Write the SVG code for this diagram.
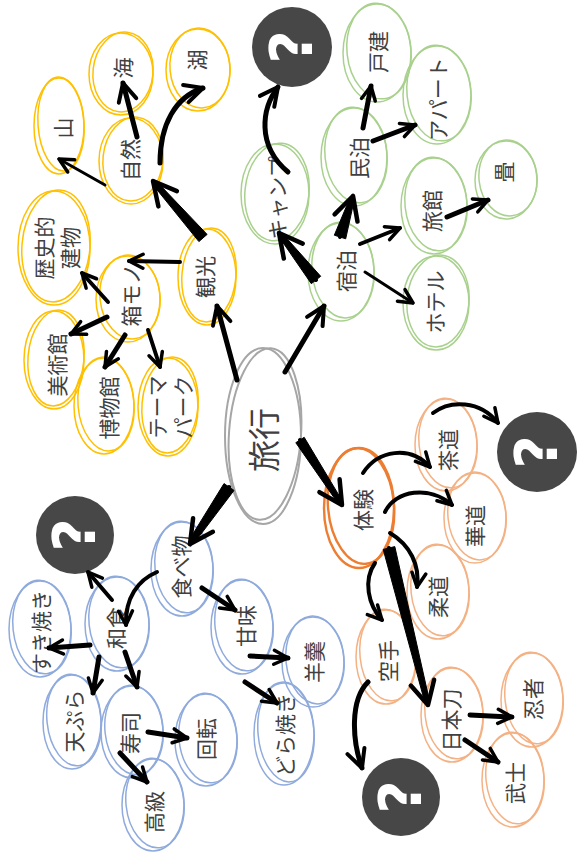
<svg xmlns="http://www.w3.org/2000/svg" width="586" height="859" viewBox="0 0 586 859">
<style>
  ellipse { fill: none; stroke-width: 1.5; }
  .y { stroke: #FFC000; }
  .g { stroke: #A9D18E; }
  .b { stroke: #8FAADC; }
  .p { stroke: #F4B183; }
  .o { stroke: #ED7D31; stroke-width: 2.4; }
  .gr { stroke: #A6A6A6; stroke-width: 2; }
  .t { font-family: "Noto Sans CJK JP", "Noto Sans", sans-serif; font-size: 21px; fill: #404040; text-anchor: middle; dominant-baseline: central; }
  .big { font-size: 32px; }
  .q circle { fill: #474747; }
  .q text { font-family: "DejaVu Sans", "Liberation Sans", sans-serif; font-weight: bold; font-size: 58px; fill: #fff; text-anchor: middle; dominant-baseline: central; }
  .c { fill: none; stroke: #000; stroke-linecap: round; stroke-linejoin: round; }
  .w3 { stroke-width: 3; }
  .w4 { stroke-width: 4; }
  .w5 { stroke-width: 5; }
  .wedge { fill: #000; stroke: #000; stroke-width: 1; stroke-linejoin: round; }
</style>
<defs>
  <marker id="ahl" viewBox="0 0 30 30" refX="27" refY="15" markerWidth="30" markerHeight="30" markerUnits="userSpaceOnUse" orient="auto">
    <path d="M4,3 L27,15 L4,27" fill="none" stroke="#000" stroke-width="4.5" stroke-linecap="round" stroke-linejoin="round"/>
  </marker>
  <marker id="ah" viewBox="0 0 24 24" refX="21" refY="12" markerWidth="24" markerHeight="24" markerUnits="userSpaceOnUse" orient="auto">
    <path d="M3,3 L21,12 L3,21" fill="none" stroke="#000" stroke-width="4" stroke-linecap="round" stroke-linejoin="round"/>
  </marker>
  <marker id="ahs" viewBox="0 0 20 20" refX="17" refY="10" markerWidth="20" markerHeight="20" markerUnits="userSpaceOnUse" orient="auto">
    <path d="M3,3 L17,10 L3,17" fill="none" stroke="#000" stroke-width="3.5" stroke-linecap="round" stroke-linejoin="round"/>
  </marker>
</defs>

<g id="nodes">
  <!-- centre -->
  <g id="n-ryoko">
    <ellipse class="gr" cx="263" cy="436" rx="38" ry="88"/>
    <ellipse class="gr" cx="265" cy="434" rx="36" ry="86" transform="rotate(4 265 434)"/>
    <text class="t big" x="262" y="440" transform="rotate(-90 262 440)">旅行</text>
  </g>

  <!-- sightseeing branch -->
  <g id="n-kanko">
    <ellipse class="y" cx="207" cy="277" rx="29" ry="48"/>
    <ellipse class="y" cx="209" cy="275" rx="27" ry="47" transform="rotate(5 209 275)"/>
    <text class="t" x="204" y="277" transform="rotate(-90 204 277)">観光</text>
  </g>
  <g id="n-shizen">
    <ellipse class="y" cx="131" cy="161" rx="32" ry="43"/>
    <ellipse class="y" cx="133" cy="159" rx="30" ry="42" transform="rotate(6 133 159)"/>
    <text class="t" x="129" y="160" transform="rotate(-90 129 160)">自然</text>
  </g>
  <g id="n-umi">
    <ellipse class="y" cx="121" cy="74" rx="32" ry="41"/>
    <ellipse class="y" cx="123" cy="72" rx="30" ry="40" transform="rotate(6 123 72)"/>
    <text class="t" x="122" y="68" transform="rotate(-90 122 68)">海</text>
  </g>
  <g id="n-mizuumi">
    <ellipse class="y" cx="198" cy="70" rx="32" ry="41"/>
    <ellipse class="y" cx="200" cy="68" rx="30" ry="40" transform="rotate(-5 200 68)"/>
    <text class="t" x="196" y="60" transform="rotate(-90 196 60)">湖</text>
  </g>
  <g id="n-yama">
    <ellipse class="y" cx="59" cy="126" rx="25" ry="48"/>
    <ellipse class="y" cx="61" cy="124" rx="23" ry="47" transform="rotate(-4 61 124)"/>
    <text class="t" x="62" y="128" transform="rotate(-90 62 128)">山</text>
  </g>
  <g id="n-rekishi">
    <ellipse class="y" cx="54" cy="248" rx="36" ry="57"/>
    <ellipse class="y" cx="56" cy="246" rx="34" ry="56" transform="rotate(5 56 246)"/>
    <text class="t" x="56" y="248" transform="rotate(-90 56 248)"><tspan x="56" dy="-0.62em">歴史的</tspan><tspan x="56" dy="1.24em">建物</tspan></text>
  </g>
  <g id="n-hakomono">
    <ellipse class="y" cx="128" cy="299" rx="32" ry="43"/>
    <ellipse class="y" cx="130" cy="297" rx="30" ry="42" transform="rotate(-6 130 297)"/>
    <text class="t" x="130" y="295" transform="rotate(-90 130 295)">箱モノ</text>
  </g>
  <g id="n-bijutsukan">
    <ellipse class="y" cx="54" cy="360" rx="30" ry="49"/>
    <ellipse class="y" cx="56" cy="358" rx="28" ry="48" transform="rotate(5 56 358)"/>
    <text class="t" x="56" y="365" transform="rotate(-90 56 365)">美術館</text>
  </g>
  <g id="n-hakubutsukan">
    <ellipse class="y" cx="104" cy="406" rx="30" ry="48"/>
    <ellipse class="y" cx="106" cy="404" rx="28" ry="47" transform="rotate(-5 106 404)"/>
    <text class="t" x="108" y="408" transform="rotate(-90 108 408)">博物館</text>
  </g>
  <g id="n-themepark">
    <ellipse class="y" cx="168" cy="407" rx="30" ry="49"/>
    <ellipse class="y" cx="170" cy="405" rx="28" ry="48" transform="rotate(5 170 405)"/>
    <text class="t" x="169" y="407" transform="rotate(-90 169 407)"><tspan x="169" dy="-0.62em">テーマ</tspan><tspan x="169" dy="1.24em">パーク</tspan></text>
  </g>

  <!-- lodging branch -->
  <g id="n-camp">
    <ellipse class="g" cx="275" cy="194" rx="34" ry="50"/>
    <ellipse class="g" cx="277" cy="192" rx="32" ry="49" transform="rotate(6 277 192)"/>
    <text class="t" x="276" y="198" transform="rotate(-90 276 198)">キャンプ</text>
  </g>
  <g id="n-shukuhaku">
    <ellipse class="g" cx="341" cy="272" rx="33" ry="49"/>
    <ellipse class="g" cx="343" cy="270" rx="31" ry="48" transform="rotate(-5 343 270)"/>
    <text class="t" x="345" y="271" transform="rotate(-90 345 271)">宿泊</text>
  </g>
  <g id="n-minpaku">
    <ellipse class="g" cx="354" cy="157" rx="33" ry="49"/>
    <ellipse class="g" cx="356" cy="155" rx="31" ry="48" transform="rotate(-6 356 155)"/>
    <text class="t" x="358" y="158" transform="rotate(-90 358 158)">民泊</text>
  </g>
  <g id="n-kodate">
    <ellipse class="g" cx="377" cy="53" rx="34" ry="49"/>
    <ellipse class="g" cx="379" cy="51" rx="32" ry="48" transform="rotate(-6 379 51)"/>
    <text class="t" x="377" y="52" transform="rotate(-90 377 52)">戸建</text>
  </g>
  <g id="n-apart">
    <ellipse class="g" cx="437" cy="95" rx="34" ry="49"/>
    <ellipse class="g" cx="439" cy="93" rx="32" ry="48" transform="rotate(-6 439 93)"/>
    <text class="t" x="437" y="99" transform="rotate(-90 437 99)">アパート</text>
  </g>
  <g id="n-ryokan">
    <ellipse class="g" cx="434" cy="206" rx="33" ry="48"/>
    <ellipse class="g" cx="436" cy="204" rx="31" ry="47" transform="rotate(-6 436 204)"/>
    <text class="t" x="431" y="211" transform="rotate(-90 431 211)">旅館</text>
  </g>
  <g id="n-tatami">
    <ellipse class="g" cx="506" cy="180" rx="31" ry="39"/>
    <ellipse class="g" cx="508" cy="178" rx="29" ry="38" transform="rotate(-6 508 178)"/>
    <text class="t" x="503" y="172" transform="rotate(-90 503 172)">畳</text>
  </g>
  <g id="n-hotel">
    <ellipse class="g" cx="436" cy="303" rx="33" ry="47"/>
    <ellipse class="g" cx="438" cy="301" rx="31" ry="46" transform="rotate(5 438 301)"/>
    <text class="t" x="434" y="302" transform="rotate(-90 434 302)">ホテル</text>
  </g>

  <!-- experience branch -->
  <g id="n-taiken">
    <ellipse class="o" cx="359" cy="508" rx="35" ry="60"/>
    <ellipse class="o" cx="361" cy="506" rx="33" ry="58" transform="rotate(-5 361 506)"/>
    <text class="t" x="362" y="510" transform="rotate(-90 362 510)">体験</text>
  </g>
  <g id="n-sado">
    <ellipse class="p" cx="446" cy="445" rx="31" ry="46"/>
    <ellipse class="p" cx="448" cy="443" rx="29" ry="45" transform="rotate(-6 448 443)"/>
    <text class="t" x="447" y="450" transform="rotate(-90 447 450)">茶道</text>
  </g>
  <g id="n-kado">
    <ellipse class="p" cx="475" cy="518" rx="31" ry="45"/>
    <ellipse class="p" cx="477" cy="516" rx="29" ry="44" transform="rotate(-6 477 516)"/>
    <text class="t" x="474" y="526" transform="rotate(-90 474 526)">華道</text>
  </g>
  <g id="n-judo">
    <ellipse class="p" cx="438" cy="592" rx="31" ry="47"/>
    <ellipse class="p" cx="440" cy="590" rx="29" ry="46" transform="rotate(-6 440 590)"/>
    <text class="t" x="437" y="597" transform="rotate(-90 437 597)">柔道</text>
  </g>
  <g id="n-karate">
    <ellipse class="p" cx="386" cy="657" rx="30" ry="47"/>
    <ellipse class="p" cx="388" cy="655" rx="28" ry="46" transform="rotate(-6 388 655)"/>
    <text class="t" x="387" y="661" transform="rotate(-90 387 661)">空手</text>
  </g>
  <g id="n-nihonto">
    <ellipse class="p" cx="452" cy="715" rx="31" ry="47"/>
    <ellipse class="p" cx="454" cy="713" rx="29" ry="46" transform="rotate(-6 454 713)"/>
    <text class="t" x="450" y="720" transform="rotate(-90 450 720)">日本刀</text>
  </g>
  <g id="n-ninja">
    <ellipse class="p" cx="532" cy="700" rx="31" ry="47"/>
    <ellipse class="p" cx="534" cy="698" rx="29" ry="46" transform="rotate(-6 534 698)"/>
    <text class="t" x="532" y="699" transform="rotate(-90 532 699)">忍者</text>
  </g>
  <g id="n-bushi">
    <ellipse class="p" cx="513" cy="780" rx="31" ry="47"/>
    <ellipse class="p" cx="515" cy="778" rx="29" ry="46" transform="rotate(-6 515 778)"/>
    <text class="t" x="514" y="783" transform="rotate(-90 514 783)">武士</text>
  </g>

  <!-- food branch -->
  <g id="n-tabemono">
    <ellipse class="b" cx="182" cy="569" rx="31" ry="47"/>
    <ellipse class="b" cx="184" cy="567" rx="29" ry="46" transform="rotate(-6 184 567)"/>
    <text class="t" x="180" y="567" transform="rotate(-90 180 567)">食べ物</text>
  </g>
  <g id="n-washoku">
    <ellipse class="b" cx="117" cy="624" rx="32" ry="47"/>
    <ellipse class="b" cx="119" cy="622" rx="30" ry="46" transform="rotate(-6 119 622)"/>
    <text class="t" x="115" y="628" transform="rotate(-90 115 628)">和食</text>
  </g>
  <g id="n-sukiyaki">
    <ellipse class="b" cx="40" cy="629" rx="31" ry="48"/>
    <ellipse class="b" cx="42" cy="627" rx="29" ry="47" transform="rotate(-6 42 627)"/>
    <text class="t" x="40" y="632" transform="rotate(-90 40 632)">すき焼き</text>
  </g>
  <g id="n-tempura">
    <ellipse class="b" cx="72" cy="722" rx="29" ry="47"/>
    <ellipse class="b" cx="74" cy="720" rx="27" ry="46" transform="rotate(-6 74 720)"/>
    <text class="t" x="73" y="721" transform="rotate(-90 73 721)">天ぷら</text>
  </g>
  <g id="n-sushi">
    <ellipse class="b" cx="132" cy="732" rx="31" ry="46"/>
    <ellipse class="b" cx="134" cy="730" rx="29" ry="45" transform="rotate(-6 134 730)"/>
    <text class="t" x="129" y="733" transform="rotate(-90 129 733)">寿司</text>
  </g>
  <g id="n-kokyu">
    <ellipse class="b" cx="153" cy="805" rx="31" ry="46"/>
    <ellipse class="b" cx="155" cy="803" rx="29" ry="45" transform="rotate(-6 155 803)"/>
    <text class="t" x="153" y="812" transform="rotate(-90 153 812)">高級</text>
  </g>
  <g id="n-kaiten">
    <ellipse class="b" cx="206" cy="740" rx="31" ry="46"/>
    <ellipse class="b" cx="208" cy="738" rx="29" ry="45" transform="rotate(-6 208 738)"/>
    <text class="t" x="205" y="739" transform="rotate(-90 205 739)">回転</text>
  </g>
  <g id="n-kanmi">
    <ellipse class="b" cx="242" cy="627" rx="31" ry="47"/>
    <ellipse class="b" cx="244" cy="625" rx="29" ry="46" transform="rotate(-6 244 625)"/>
    <text class="t" x="245" y="626" transform="rotate(-90 245 626)">甘味</text>
  </g>
  <g id="n-yokan">
    <ellipse class="b" cx="313" cy="662" rx="31" ry="45"/>
    <ellipse class="b" cx="315" cy="660" rx="29" ry="44" transform="rotate(-6 315 660)"/>
    <text class="t" x="313" y="662" transform="rotate(-90 313 662)">羊羹</text>
  </g>
  <g id="n-dorayaki">
    <ellipse class="b" cx="284" cy="734" rx="30" ry="51"/>
    <ellipse class="b" cx="286" cy="732" rx="28" ry="50" transform="rotate(-5 286 732)"/>
    <text class="t" x="284" y="735" transform="rotate(-90 284 735)">どら焼き</text>
  </g>

  <!-- open-question markers -->
  <g id="q-camp" class="q">
    <circle cx="292" cy="47" r="40"/>
    <text x="292" y="47" transform="rotate(-90 292 47)">?</text>
  </g>
  <g id="q-sado" class="q">
    <circle cx="537" cy="452" r="40"/>
    <text x="537" y="452" transform="rotate(-90 537 452)">?</text>
  </g>
  <g id="q-washoku" class="q">
    <circle cx="75" cy="535" r="39"/>
    <text x="75" y="535" transform="rotate(-90 75 535)">?</text>
  </g>
  <g id="q-karate" class="q">
    <circle cx="401" cy="797" r="39"/>
    <text x="401" y="797" transform="rotate(-90 401 797)">?</text>
  </g>
</g>

<g id="connectors">
  <!-- tapered brush strokes -->
  <polygon class="wedge" points="207.1,234.4 158.2,183.1 154.4,186.5 198.9,241.6"/>
  <path class="c w4" d="M200,238 L153,181" marker-end="url(#ahl)"/>
  <polygon class="wedge" points="320.7,276.3 284.1,235.4 280.1,238.4 311.3,283.7"/>
  <path class="c w4" d="M316,280 L279,233" marker-end="url(#ahl)"/>
  <polygon class="wedge" points="345.7,238.8 353.9,201.6 349.1,200 334.3,235.2"/>
  <path class="c w4" d="M340,237 L353,196" marker-end="url(#ahl)"/>
  <polygon class="wedge" points="295.8,442.7 337.2,502.2 341.4,499.4 304.2,437.3"/>
  <path class="c w4" d="M300,440 L342,505" marker-end="url(#ahl)"/>
  <polygon class="wedge" points="224,483.6 190.3,538.2 195.3,541.6 234,490.4"/>
  <path class="c w4" d="M229,487 L190,544" marker-end="url(#ahl)"/>
  <polygon class="wedge" points="383.2,549.4 424.4,700.8 429.2,699.6 394.8,546.6"/>
  <path class="c w4" d="M389,548 L428,705" marker-end="url(#ahl)"/>

  <!-- sightseeing -->
  <path class="c w5" d="M237,380 L217,306" marker-end="url(#ah)"/>
  <path class="c w4" d="M180,262 L129,261" marker-end="url(#ahs)"/>
  <path class="c w3" d="M105,185 L59,159" marker-end="url(#ahs)"/>
  <path class="c w5" d="M137,137 L123,83" marker-end="url(#ah)"/>
  <path class="c w5" d="M160,163 C160,125 175,97 203,88" marker-end="url(#ah)"/>
  <path class="c w4" d="M108,302 L82,273" marker-end="url(#ahs)"/>
  <path class="c w5" d="M107,317 L71,334" marker-end="url(#ahs)"/>
  <path class="c w5" d="M125,335 L105,367" marker-end="url(#ahs)"/>
  <path class="c w4" d="M148,330 L160,367" marker-end="url(#ahs)"/>

  <!-- lodging -->
  <path class="c w5" d="M285,372 L324,306" marker-end="url(#ah)"/>
  <path class="c w4" d="M360,244 L400,228" marker-end="url(#ahs)"/>
  <path class="c w3" d="M365,272 L413,303" marker-end="url(#ahs)"/>
  <path class="c w5" d="M363,128 L371,86" marker-end="url(#ahs)"/>
  <path class="c w5" d="M373,141 L415,125" marker-end="url(#ahs)"/>
  <path class="c w5" d="M447,217 L488,200" marker-end="url(#ahs)"/>
  <path class="c w5" d="M288,172 C256,145 262,108 278,87" marker-end="url(#ah)"/>

  <!-- experience -->
  <path class="c w4" d="M363,473 C378,450 410,445 430,467" marker-end="url(#ahs)"/>
  <path class="c w4" d="M385,512 C395,490 430,485 452,505" marker-end="url(#ahs)"/>
  <path class="c w4" d="M433,413 C450,400 480,400 498,423" marker-end="url(#ahs)"/>
  <path class="c w4" d="M390,533 C410,545 420,565 417,587" marker-end="url(#ahs)"/>
  <path class="c w4" d="M375,563 C363,580 368,605 382,620" marker-end="url(#ahs)"/>
  <path class="c w5" d="M368,682 C350,700 352,740 362,768" marker-end="url(#ah)"/>
  <path class="c w5" d="M470,715 L512,717" marker-end="url(#ahs)"/>
  <path class="c w5" d="M465,740 L498,762" marker-end="url(#ahs)"/>

  <!-- food -->
  <path class="c w4" d="M157,572 C138,580 125,598 126,625" marker-end="url(#ahs)"/>
  <path class="c w5" d="M202,588 L235,610" marker-end="url(#ahs)"/>
  <path class="c w4" d="M112,600 L88,572" marker-end="url(#ahs)"/>
  <path class="c w5" d="M90,645 L49,648" marker-end="url(#ahs)"/>
  <path class="c w5" d="M99,657 L93,693" marker-end="url(#ahs)"/>
  <path class="c w5" d="M125,652 L137,687" marker-end="url(#ahs)"/>
  <path class="c w5" d="M148,732 L187,738" marker-end="url(#ahs)"/>
  <path class="c w5" d="M120,753 L147,782" marker-end="url(#ahs)"/>
  <path class="c w5" d="M250,656 L288,658" marker-end="url(#ahs)"/>
  <path class="c w5" d="M245,682 L277,703" marker-end="url(#ahs)"/>
</g>
</svg>
